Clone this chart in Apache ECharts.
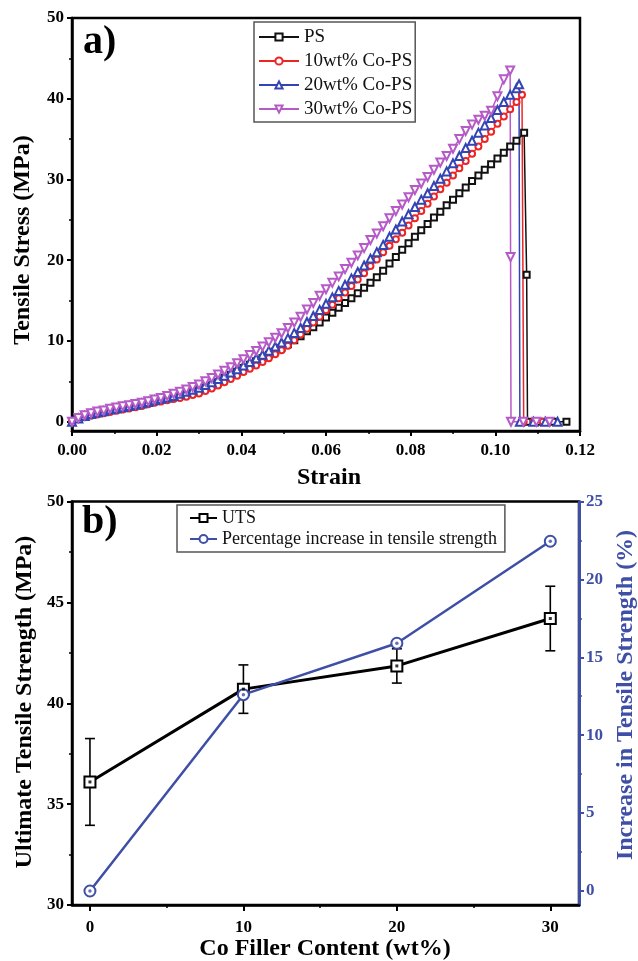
<!DOCTYPE html>
<html>
<head>
<meta charset="utf-8">
<script src="https://cdn.jsdelivr.net/npm/echarts@6/dist/echarts.min.js"></script>
<style>
  html, body { margin: 0; padding: 0; background: #fff; }
  #chart { width: 638px; height: 961px; }
</style>
</head>
<body>
<div id="chart"></div>
<script>
// ---- panel a: stress-strain curves ----
const strain = [0, 0.0015, 0.003, 0.0045, 0.006, 0.0075, 0.009, 0.0105, 0.012, 0.0135,
  0.015, 0.0165, 0.018, 0.0195, 0.021, 0.0225, 0.024, 0.0255, 0.027, 0.0285,
  0.030, 0.0315, 0.033, 0.0345, 0.036, 0.0375, 0.039, 0.0405, 0.042, 0.0435,
  0.045, 0.0465, 0.048, 0.0495, 0.051, 0.0525, 0.054, 0.0555, 0.057, 0.0585,
  0.060, 0.0615, 0.063, 0.0645, 0.066, 0.0675, 0.069, 0.0705, 0.072, 0.0735,
  0.075, 0.0765, 0.078, 0.0795, 0.081, 0.0825, 0.084, 0.0855, 0.087, 0.0885,
  0.090, 0.0915, 0.093, 0.0945, 0.096, 0.0975, 0.099, 0.1005, 0.102, 0.1035, 0.105];

const psStress = [0, 0.4, 0.7, 0.95, 1.15, 1.3, 1.5, 1.65, 1.8, 1.95,
  2.1, 2.25, 2.45, 2.65, 2.8, 2.95, 3.1, 3.25, 3.45, 3.65,
  3.9, 4.2, 4.5, 4.9, 5.4, 5.8, 6.2, 6.65, 7.05, 7.5,
  7.9, 8.3, 8.7, 9.15, 9.6, 10.1, 10.6, 11.2, 11.7, 12.3,
  12.9, 13.5, 14.1, 14.7, 15.3, 15.9, 16.6, 17.2, 17.9, 18.7,
  19.6, 20.4, 21.3, 22.1, 22.9, 23.7, 24.5, 25.3, 26.0, 26.8,
  27.5, 28.3, 29.0, 29.8, 30.5, 31.2, 31.9, 32.6, 33.3, 34.1, 34.8];
const psTail = [[0.1068, 35.8], [0.1074, 18.2], [0.1076, 0], [0.1105, 0], [0.1137, 0], [0.1168, 0]];

const co10Stress = [0, 0.3, 0.55, 0.75, 0.9, 1.05, 1.2, 1.35, 1.5, 1.65,
  1.8, 1.95, 2.15, 2.35, 2.5, 2.65, 2.8, 2.95, 3.1, 3.3,
  3.5, 3.8, 4.1, 4.5, 4.9, 5.3, 5.7, 6.15, 6.55, 6.95,
  7.4, 7.85, 8.35, 8.85, 9.4, 10.1, 10.8, 11.5, 12.3, 13.0,
  13.8, 14.5, 15.3, 16.0, 16.8, 17.6, 18.4, 19.3, 20.1, 21.0,
  21.8, 22.6, 23.4, 24.3, 25.2, 26.1, 27.0, 27.9, 28.8, 29.6,
  30.5, 31.4, 32.3, 33.2, 34.1, 35.0, 35.9, 36.9, 37.8, 38.7, 39.6];
const co10Tail = [[0.1063, 40.5], [0.1067, 0], [0.1090, 0], [0.1112, 0]];

const co20Stress = [0, 0.4, 0.7, 0.95, 1.15, 1.3, 1.5, 1.65, 1.8, 1.95,
  2.1, 2.25, 2.45, 2.65, 2.85, 3.0, 3.2, 3.45, 3.7, 3.95,
  4.2, 4.55, 4.9, 5.3, 5.7, 6.1, 6.5, 6.95, 7.4, 7.85,
  8.3, 8.8, 9.3, 9.8, 10.35, 11.0, 11.6, 12.35, 13.1, 13.85,
  14.6, 15.4, 16.2, 16.95, 17.75, 18.55, 19.35, 20.2, 21.0, 21.9,
  22.9, 23.8, 24.8, 25.7, 26.6, 27.5, 28.3, 29.2, 30.1, 31.0,
  32.0, 32.9, 33.9, 34.8, 35.8, 36.7, 37.6, 38.6, 39.6, 40.5, 41.3];
const co20Tail = [[0.1056, 41.8], [0.1058, 0], [0.1090, 0], [0.1118, 0], [0.1147, 0]];

const co30Stress = [0, 0.45, 0.8, 1.05, 1.25, 1.4, 1.6, 1.75, 1.9, 2.05,
  2.2, 2.35, 2.55, 2.75, 2.95, 3.2, 3.45, 3.7, 4.0, 4.3,
  4.6, 5.0, 5.4, 5.85, 6.3, 6.75, 7.25, 7.75, 8.25, 8.75,
  9.3, 9.85, 10.4, 10.95, 11.6, 12.3, 13.0, 13.9, 14.7, 15.6,
  16.4, 17.2, 18.0, 18.9, 19.7, 20.6, 21.5, 22.5, 23.3, 24.2,
  25.2, 26.1, 26.9, 27.8, 28.7, 29.5, 30.3, 31.2, 32.1, 32.9,
  33.8, 35.0, 36.0, 36.8, 37.4, 37.9, 38.5, 40.3, 42.4, 43.5];
const co30Tail = [[0.1036, 20.4], [0.1037, 0], [0.1066, 0], [0.1097, 0], [0.1128, 0]];

// ---- panel b: UTS vs filler content ----
const fillerContent = [0, 10, 20, 30];
const utsMean = [36.1, 40.7, 41.85, 44.2];
const utsError = [2.15, 1.2, 0.85, 1.6];
const strengthIncrease = [0, 12.6, 15.9, 22.45];

const SERIF = '"Liberation Serif", "Times New Roman", serif';
const BLUE = '#3f4fa6';

function curve(stress, tail) {
  const pts = stress.map((v, i) => [strain[i], v]);
  return pts.concat(tail);
}

const chart = echarts.init(document.getElementById('chart'), null, { renderer: 'canvas' });

const tickLabel = { fontFamily: SERIF, fontWeight: 'bold', fontSize: 17, color: '#000' };
const axisLineBlack = { show: true, onZero: false, lineStyle: { color: '#000', width: 2.5 } };

// extra axis that only carries the short minor ticks
function minorAxis(extra) {
  return Object.assign({
    type: 'value',
    axisLine: { show: false, onZero: false },
    axisLabel: { show: false },
    splitLine: { show: false }
  }, extra);
}

function topSeries(name, data, symbol, color, size, rotate) {
  return {
    name: name, type: 'line', xAxisIndex: 0, yAxisIndex: 0,
    data: data, symbol: symbol, symbolSize: size, symbolRotate: rotate || 0,
    showAllSymbol: true, clip: false,
    lineStyle: { color: color, width: 1.5 },
    itemStyle: { color: color, borderColor: color, borderWidth: 1.4 }
  };
}

const errorData = fillerContent.map((x, i) => [x, utsMean[i] - utsError[i], utsMean[i] + utsError[i]]);

const option = {
  animation: false,
  backgroundColor: '#fff',
  grid: [
    { left: 72, right: 58, top: 18, bottom: 530, show: true, borderColor: '#000', borderWidth: 2.5, backgroundColor: 'transparent' },
    { left: 72, right: 59, top: 501.5, bottom: 56, show: true, borderColor: '#000', borderWidth: 2.5, backgroundColor: 'transparent' }
  ],
  xAxis: [
    {
      type: 'value', gridIndex: 0, min: 0, max: 0.12, interval: 0.02,
      axisLine: axisLineBlack,
      axisTick: { show: true, length: 5, lineStyle: { color: '#000', width: 2 } },
      minorTick: { show: true, splitNumber: 2, length: 3, lineStyle: { color: '#000', width: 1.5 } },
      axisLabel: Object.assign({ margin: 11, formatter: v => v.toFixed(2) }, tickLabel),
      splitLine: { show: false }
    },
    {
      type: 'value', gridIndex: 1, min: -1.17, max: 31.87,
      axisLine: axisLineBlack,
      axisTick: { show: true, length: 6, customValues: [0, 10, 20, 30], lineStyle: { color: '#000', width: 2 } },
      axisLabel: Object.assign({ margin: 14, customValues: [0, 10, 20, 30] }, tickLabel),
      splitLine: { show: false }
    },
    minorAxis({ gridIndex: 1, min: -1.17, max: 31.87, position: 'bottom',
      axisTick: { show: true, length: 3, customValues: [5, 15, 25], lineStyle: { color: '#000', width: 1.5 } } })
  ],
  yAxis: [
    {
      type: 'value', gridIndex: 0, min: -1.15, max: 50,
      axisLine: axisLineBlack,
      axisTick: { show: true, length: 5, customValues: [0, 10, 20, 30, 40, 50], lineStyle: { color: '#000', width: 2 } },
      axisLabel: Object.assign({ margin: 8, customValues: [0, 10, 20, 30, 40, 50] }, tickLabel),
      splitLine: { show: false }
    },
    minorAxis({ gridIndex: 0, min: -1.15, max: 50, position: 'left',
      axisTick: { show: true, length: 3, customValues: [5, 15, 25, 35, 45], lineStyle: { color: '#000', width: 1.5 } } }),
    {
      type: 'value', gridIndex: 1, min: 30, max: 50, interval: 5, position: 'left',
      axisLine: axisLineBlack,
      axisTick: { show: true, length: 5, lineStyle: { color: '#000', width: 2 } },
      minorTick: { show: true, splitNumber: 2, length: 3, lineStyle: { color: '#000', width: 1.5 } },
      axisLabel: Object.assign({ margin: 8 }, tickLabel),
      splitLine: { show: false }
    },
    {
      type: 'value', gridIndex: 1, min: -0.9, max: 25, position: 'right',
      axisLine: { show: true, onZero: false, lineStyle: { color: BLUE, width: 3 } },
      axisTick: { show: true, length: 5, customValues: [0, 5, 10, 15, 20, 25], lineStyle: { color: BLUE, width: 2 } },
      axisLabel: Object.assign({}, tickLabel, { color: BLUE, margin: 7, customValues: [0, 5, 10, 15, 20, 25] }),
      splitLine: { show: false }
    },
    minorAxis({ gridIndex: 1, min: -0.9, max: 25, position: 'right',
      axisTick: { show: true, length: 3, customValues: [2.5, 7.5, 12.5, 17.5, 22.5], lineStyle: { color: BLUE, width: 1.5 } } })
  ],
  legend: [
    {
      data: ['PS', '10wt% Co-PS', '20wt% Co-PS', '30wt% Co-PS'],
      orient: 'vertical', left: 254, top: 22,
      itemWidth: 40, itemHeight: 9, itemGap: 4,
      padding: [5, 3, 3, 4],
      borderColor: '#555', borderWidth: 1.5, backgroundColor: '#fff',
      textStyle: { fontFamily: SERIF, fontSize: 19, color: '#111', lineHeight: 20 }
    },
    {
      data: ['UTS', 'Percentage increase in tensile strength'],
      orient: 'vertical', left: 177, top: 505,
      itemWidth: 27, itemHeight: 10, itemGap: 3,
      padding: [4, 8, 4, 12],
      borderColor: '#555', borderWidth: 1.5, backgroundColor: '#fff',
      textStyle: { fontFamily: SERIF, fontSize: 18, color: '#111', lineHeight: 18 }
    }
  ],
  series: [
    topSeries('PS', curve(psStress, psTail), 'emptyRect', '#111', 6),
    topSeries('10wt% Co-PS', curve(co10Stress, co10Tail), 'emptyCircle', '#ee2424', 6),
    topSeries('20wt% Co-PS', curve(co20Stress, co20Tail), 'emptyTriangle', '#3344b4', 8),
    topSeries('30wt% Co-PS', curve(co30Stress, co30Tail), 'emptyTriangle', '#b55ac6', 8, 180),
    {
      type: 'custom', xAxisIndex: 1, yAxisIndex: 2, z: 1,
      data: errorData,
      renderItem: function (params, api) {
        const top = api.coord([api.value(0), api.value(2)]);
        const bot = api.coord([api.value(0), api.value(1)]);
        const half = 5;
        const st = { stroke: '#000', lineWidth: 1.6 };
        return {
          type: 'group',
          children: [
            { type: 'line', shape: { x1: top[0], y1: top[1], x2: bot[0], y2: bot[1] }, style: st },
            { type: 'line', shape: { x1: top[0] - half, y1: top[1], x2: top[0] + half, y2: top[1] }, style: st },
            { type: 'line', shape: { x1: bot[0] - half, y1: bot[1], x2: bot[0] + half, y2: bot[1] }, style: st }
          ]
        };
      }
    },
    {
      name: 'UTS', type: 'line', xAxisIndex: 1, yAxisIndex: 2, z: 3,
      data: fillerContent.map((x, i) => [x, utsMean[i]]),
      symbol: 'emptyRect', symbolSize: 11,
      lineStyle: { color: '#000', width: 3 },
      itemStyle: { color: '#000', borderColor: '#000', borderWidth: 1.8 }
    },
    {
      name: 'Percentage increase in tensile strength', type: 'line', xAxisIndex: 1, yAxisIndex: 3, z: 4,
      data: fillerContent.map((x, i) => [x, strengthIncrease[i]]),
      symbol: 'emptyCircle', symbolSize: 11,
      lineStyle: { color: BLUE, width: 2.5 },
      itemStyle: { color: BLUE, borderColor: BLUE, borderWidth: 2 }
    },
    {
      type: 'scatter', xAxisIndex: 1, yAxisIndex: 2, z: 5, silent: true,
      data: fillerContent.map((x, i) => [x, utsMean[i]]),
      symbol: 'rect', symbolSize: 3, itemStyle: { color: '#000' }
    },
    {
      type: 'scatter', xAxisIndex: 1, yAxisIndex: 3, z: 6, silent: true,
      data: fillerContent.map((x, i) => [x, strengthIncrease[i]]),
      symbol: 'circle', symbolSize: 3.5, itemStyle: { color: BLUE }
    }
  ],
  graphic: [
    { type: 'text', x: 83, y: 43, style: { text: 'a)', fontFamily: SERIF, fontWeight: 'bold', fontSize: 40, fill: '#000', verticalAlign: 'middle' } },
    { type: 'text', x: 82, y: 523, style: { text: 'b)', fontFamily: SERIF, fontWeight: 'bold', fontSize: 40, fill: '#000', verticalAlign: 'middle' } },
    { type: 'text', x: 23, y: 240, rotation: Math.PI / 2,
      style: { text: 'Tensile Stress (MPa)', fontFamily: SERIF, fontWeight: 'bold', fontSize: 24, fill: '#000', align: 'center', verticalAlign: 'middle' } },
    { type: 'text', x: 329, y: 478,
      style: { text: 'Strain', fontFamily: SERIF, fontWeight: 'bold', fontSize: 24, fill: '#000', align: 'center', verticalAlign: 'middle' } },
    { type: 'text', x: 25, y: 702, rotation: Math.PI / 2,
      style: { text: 'Ultimate Tensile Strength (MPa)', fontFamily: SERIF, fontWeight: 'bold', fontSize: 24, fill: '#000', align: 'center', verticalAlign: 'middle' } },
    { type: 'text', x: 626, y: 695, rotation: Math.PI / 2,
      style: { text: 'Increase in Tensile Strength (%)', fontFamily: SERIF, fontWeight: 'bold', fontSize: 24, fill: BLUE, align: 'center', verticalAlign: 'middle' } },
    { type: 'text', x: 325, y: 949,
      style: { text: 'Co Filler Content (wt%)', fontFamily: SERIF, fontWeight: 'bold', fontSize: 24, fill: '#000', align: 'center', verticalAlign: 'middle' } }
  ]
};

chart.setOption(option);
</script>
</body>
</html>
